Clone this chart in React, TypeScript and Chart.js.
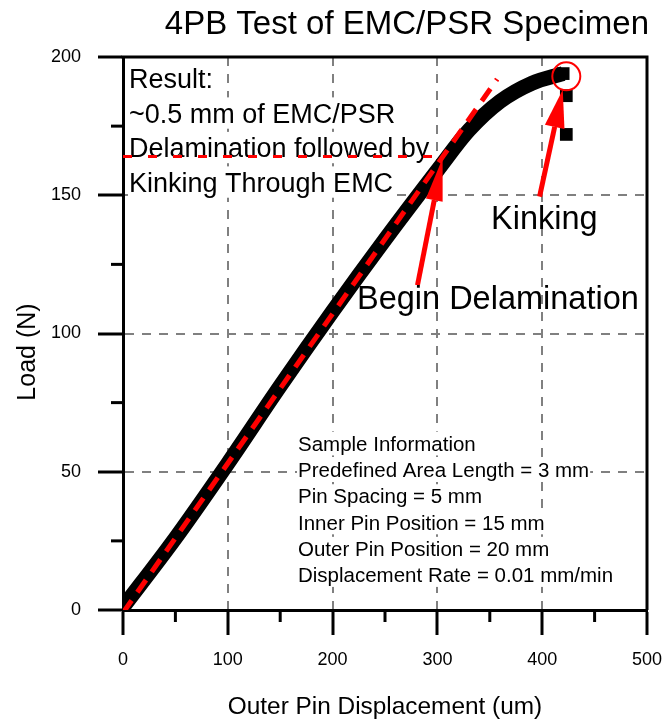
import React, { useEffect, useRef } from 'react';
import { Chart, registerables } from 'chart.js';
Chart.register(...registerables);

const FONT = "'Liberation Sans', Arial, Helvetica, sans-serif";
const RED = '#ff0000';

const chartTitle = '4PB Test of EMC/PSR Specimen';
const xAxisTitle = 'Outer Pin Displacement (um)';
const yAxisTitle = 'Load (N)';
const xTicks = [0, 100, 200, 300, 400, 500];
const yTicks = [0, 50, 100, 150, 200];
const xMinorTicks = [50, 150, 250, 350, 450];
const yMinorTicks = [25, 75, 125, 175];

// measured load curve
const displacement = [0, 50, 100, 150, 200, 250, 300, 330, 360, 390, 420];
const loadValues = [1, 26, 53, 81, 108, 134, 159, 173.5, 184, 190.5, 194];
// points after kinking
const dropDisplacement = [420, 423, 423];
const dropLoad = [194, 186, 172];
// linear fit (red dashed)
const fitDisplacement = [0, 357];
const fitLoad = [-1, 192];
// delamination load level
const delamDisplacement = [0, 300];
const delamLoad = [164, 164];
// kinking marker
const kinkDisplacement = [423];
const kinkLoad = [193];
// arrows (tail -> tip)
const delamArrowX = [281, 305];
const delamArrowY = [117.5, 163.5];
const kinkArrowX = [397.5, 419.6];
const kinkArrowY = [149.5, 188.2];

const resultLines = ['Result:', '~0.5 mm of EMC/PSR', 'Delamination followed by', 'Kinking Through EMC'];
const sampleLines = [
  'Sample Information',
  'Predefined Area Length = 3 mm',
  'Pin Spacing = 5 mm',
  'Inner Pin Position = 15 mm',
  'Outer Pin Position = 20 mm',
  'Displacement Rate = 0.01 mm/min',
];
const delamLabel = 'Begin Delamination';
const kinkLabel = 'Kinking';

function textBlock(ctx: CanvasRenderingContext2D, lines: string[], left: number, firstBaseline: number, gap: number, size: number) {
  ctx.save();
  ctx.font = `${size}px ${FONT}`;
  ctx.textAlign = 'left';
  ctx.textBaseline = 'alphabetic';
  lines.forEach((t, i) => {
    const yb = firstBaseline + i * gap;
    const w = ctx.measureText(t).width;
    ctx.fillStyle = '#ffffff';
    ctx.fillRect(left - 1, yb - size * 0.93, w + 2, size * 1.16);
    ctx.fillStyle = '#000000';
    ctx.fillText(t, left, yb);
  });
  ctx.restore();
}

function arrow(ctx: CanvasRenderingContext2D, x1: number, y1: number, x2: number, y2: number, headLen: number, headW: number, lw: number) {
  const a = Math.atan2(y2 - y1, x2 - x1);
  const bx = x2 - headLen * Math.cos(a);
  const by = y2 - headLen * Math.sin(a);
  ctx.save();
  ctx.strokeStyle = RED;
  ctx.fillStyle = RED;
  ctx.lineWidth = lw;
  ctx.beginPath();
  ctx.moveTo(x1, y1);
  ctx.lineTo(bx, by);
  ctx.stroke();
  const hx = (headW / 2) * Math.sin(a);
  const hy = (headW / 2) * Math.cos(a);
  ctx.beginPath();
  ctx.moveTo(x2, y2);
  ctx.lineTo(bx + hx, by - hy);
  ctx.lineTo(bx - hx, by + hy);
  ctx.closePath();
  ctx.fill();
  ctx.restore();
}

const annotPlugin = {
  id: 'annot',
  beforeDatasetsDraw(chart: any) {
    const ctx = chart.ctx as CanvasRenderingContext2D;
    textBlock(ctx, resultLines, 129, 88, 34.5, 27);
    textBlock(ctx, sampleLines, 298, 450.7, 26.3, 20.5);
  },
  afterDatasetsDraw(chart: any) {
    const ctx = chart.ctx as CanvasRenderingContext2D;
    const { x, y } = chart.scales;
    arrow(ctx, x.getPixelForValue(delamArrowX[0]), y.getPixelForValue(delamArrowY[0]),
      x.getPixelForValue(delamArrowX[1]), y.getPixelForValue(delamArrowY[1]), 43, 17, 5);
    arrow(ctx, x.getPixelForValue(kinkArrowX[0]), y.getPixelForValue(kinkArrowY[0]),
      x.getPixelForValue(kinkArrowX[1]), y.getPixelForValue(kinkArrowY[1]), 38, 20, 5);
    ctx.save();
    ctx.fillStyle = '#000';
    ctx.font = `32.5px ${FONT}`;
    ctx.textAlign = 'left';
    ctx.textBaseline = 'alphabetic';
    ctx.fillText(delamLabel, 357, 308.6);
    ctx.fillText(kinkLabel, 491, 228.6);
    ctx.restore();
  },
  afterDraw(chart: any) {
    const ctx = chart.ctx as CanvasRenderingContext2D;
    const { x, y } = chart.scales;
    const a = chart.chartArea;
    ctx.save();
    ctx.strokeStyle = '#000';
    ctx.lineWidth = 3;
    ctx.beginPath();
    ctx.moveTo(a.left - 1.5, a.top);
    ctx.lineTo(a.right, a.top);
    ctx.lineTo(a.right, a.bottom);
    ctx.stroke();
    // minor ticks
    yMinorTicks.forEach((v) => {
      const p = y.getPixelForValue(v);
      ctx.beginPath();
      ctx.moveTo(a.left - 12, p);
      ctx.lineTo(a.left, p);
      ctx.stroke();
    });
    xMinorTicks.forEach((v) => {
      const p = x.getPixelForValue(v);
      ctx.beginPath();
      ctx.moveTo(p, a.bottom);
      ctx.lineTo(p, a.bottom + 12);
      ctx.stroke();
    });
    // title
    ctx.fillStyle = '#000';
    ctx.font = `33px ${FONT}`;
    ctx.textAlign = 'right';
    ctx.textBaseline = 'alphabetic';
    ctx.fillText(chartTitle, 649, 34);
    // x axis title
    ctx.font = `24.4px ${FONT}`;
    ctx.textAlign = 'center';
    ctx.fillText(xAxisTitle, (a.left + a.right) / 2, 713.5);
    // y axis title
    ctx.translate(35, 352);
    ctx.rotate(-Math.PI / 2);
    ctx.font = `25px ${FONT}`;
    ctx.fillText(yAxisTitle, 0, 0);
    ctx.restore();
  },
};

function gridColor(edges: number[]) {
  return (c: any) => (c.tick && edges.includes(c.tick.value) ? 'rgba(0,0,0,0)' : '#808080');
}

export default function App() {
  const ref = useRef<HTMLCanvasElement | null>(null);
  useEffect(() => {
    if (!ref.current) return;
    const pts = (xs: number[], ys: number[]) => xs.map((v, i) => ({ x: v, y: ys[i] }));
    const chart = new Chart(ref.current, {
      type: 'scatter',
      data: {
        datasets: [
          {
            data: pts(kinkDisplacement, kinkLoad),
            pointStyle: 'circle',
            pointRadius: 14,
            borderColor: RED,
            borderWidth: 2,
            backgroundColor: 'rgba(0,0,0,0)',
            showLine: false,
          },
          {
            data: pts(fitDisplacement, fitLoad),
            showLine: true,
            borderColor: RED,
            borderWidth: 5,
            borderDash: [15, 10],
            pointRadius: 0,
          },
          {
            data: pts(delamDisplacement, delamLoad),
            showLine: true,
            borderColor: RED,
            borderWidth: 3,
            borderDash: [9, 16],
            pointRadius: 0,
          },
          {
            data: pts(dropDisplacement, dropLoad),
            pointStyle: 'rect',
            pointRadius: 9,
            backgroundColor: '#000',
            borderColor: '#000',
            borderWidth: 0,
            showLine: false,
          },
          {
            data: pts(displacement, loadValues),
            showLine: true,
            borderColor: '#000',
            borderWidth: 15,
            cubicInterpolationMode: 'monotone',
            pointRadius: 0,
          },
        ],
      } as any,
      options: {
        animation: false,
        responsive: false,
        events: [],
        layout: { padding: { top: 57, right: 20, left: 0, bottom: 0 } },
        plugins: { legend: { display: false }, tooltip: { enabled: false }, title: { display: false } },
        scales: {
          x: {
            type: 'linear',
            min: 0,
            max: 500,
            afterFit: (s: any) => { s.height = 113; s.paddingRight = 0; s.paddingLeft = 0; },
            afterBuildTicks: (s: any) => { s.ticks = xTicks.map((v) => ({ value: v })); },
            ticks: { font: { family: FONT, size: 18 }, color: '#000', padding: 14, maxRotation: 0, autoSkip: false },
            grid: { color: gridColor([0, 500]), lineWidth: 2, tickLength: 25, tickColor: '#000', tickWidth: 3 },
            border: { display: true, color: '#000', width: 3, dash: [9, 8] },
          },
          y: {
            type: 'linear',
            min: 0,
            max: 200,
            afterFit: (s: any) => { s.width = 123; s.paddingTop = 0; s.paddingBottom = 0; },
            afterBuildTicks: (s: any) => { s.ticks = yTicks.map((v) => ({ value: v })); },
            ticks: { font: { family: FONT, size: 18 }, color: '#000', padding: 17, autoSkip: false },
            grid: { color: gridColor([0, 200]), lineWidth: 2, tickLength: 25, tickColor: '#000', tickWidth: 3 },
            border: { display: true, color: '#000', width: 3, dash: [9, 8] },
          },
        },
      } as any,
      plugins: [annotPlugin],
    });
    return () => chart.destroy();
  }, []);
  return (
    <div style={{ position: 'absolute', left: 0, top: 0, width: 667, height: 723, background: '#fff' }}>
      <canvas ref={ref} width={667} height={723} style={{ display: 'block' }} />
    </div>
  );
}
